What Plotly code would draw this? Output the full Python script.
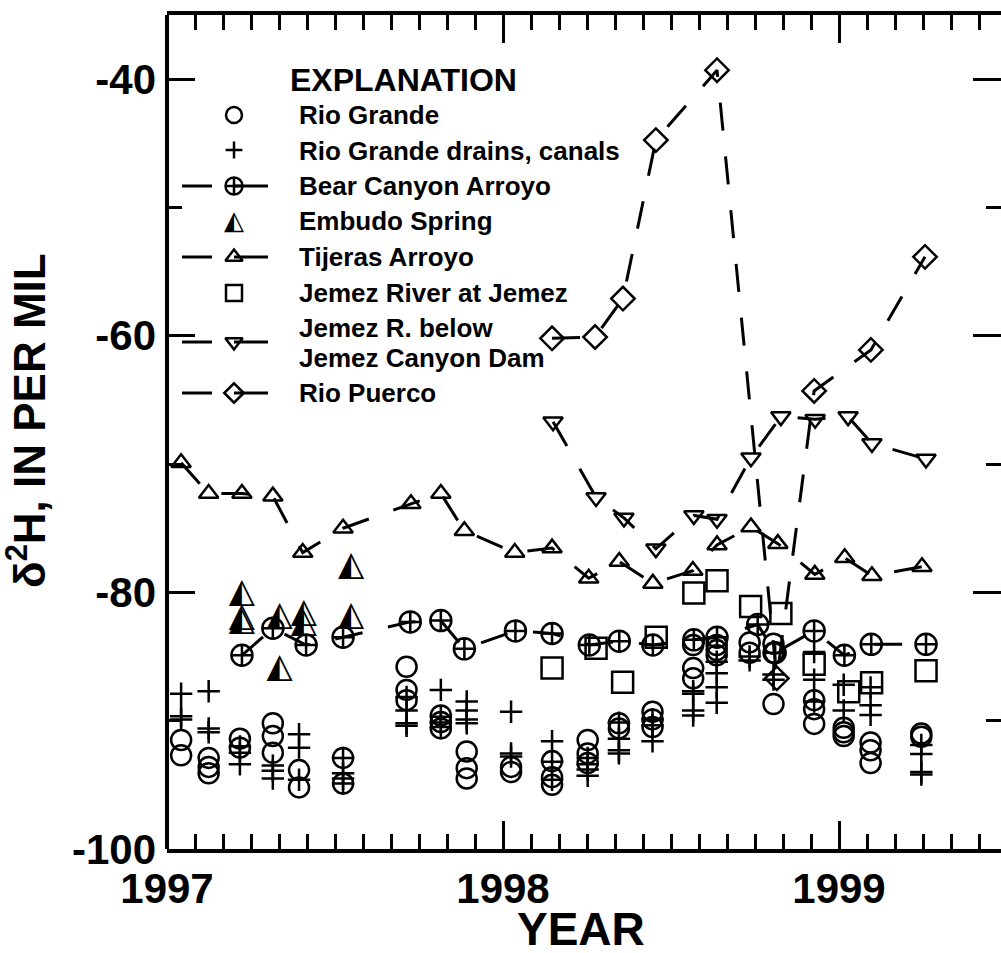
import plotly.graph_objects as go

# ---------------- data (decimal year, delta-2H in per mil) ----------------
# Field-trip sample dates shared by the Rio Grande and drain/canal sites
sample_dates = [1997.042, 1997.124, 1997.217, 1997.315, 1997.393, 1997.524,
                1997.713, 1997.815, 1997.892, 1998.024, 1998.146, 1998.252,
                1998.345, 1998.445, 1998.566, 1998.636, 1998.734, 1998.805,
                1998.926, 1999.014, 1999.094, 1999.245]

rio_grande = [
    [-91.5, -92.7], [-92.9, -93.6, -94.1], [-91.4, -92.1], [-90.2, -91.2, -92.5],
    [-93.85, -95.2], [-92.9, -94.9], [-85.8, -87.6, -88.4], [-89.6, -90.1, -90.6],
    [-92.4, -93.7, -94.5], [-93.6, -94.0], [-93.15, -94.4, -95.0],
    [-91.5, -92.55, -93.3], [-90.2, -90.6], [-89.3, -89.9, -90.5],
    [-84.1, -85.9, -86.7], [-84.1, -84.5, -84.9], [-83.9, -84.7],
    [-84.0, -84.7, -88.7], [-88.4, -89.1, -90.25], [-90.55, -90.9, -91.2],
    [-91.7, -92.3, -93.3], [-91.0, -91.25],
]

drains_canals = [
    [-87.9, -89.65, -89.9], [-87.7, -90.6, -90.9], [-92.0, -92.5, -93.4],
    [-93.5, -93.9, -94.5], [-91.05, -92.1, -94.6], [-92.9, -94.1, -94.5, -94.9],
    [-88.15, -89.2, -90.2, -90.4], [-87.6, -89.7, -90.15, -90.5],
    [-88.5, -89.2, -89.9, -90.2], [-89.3, -92.55, -92.8], [-91.6, -93.2, -94.6],
    [-92.9, -93.4, -93.8, -94.3], [-90.15, -91.4, -92.3, -92.55],
    [-89.9, -90.35, -91.6], [-87.7, -87.9, -89.2, -89.6],
    [-85.4, -86.3, -87.4, -88.6], [-85.0, -85.3], [-86.4, -86.8],
    [-84.65, -86.8, -88.5], [-87.2, -89.2], [-87.4, -88.8, -89.55],
    [-91.9, -92.6, -94.0, -94.2],
]

bear_dates = [1997.223, 1997.315, 1997.414, 1997.524, 1997.724, 1997.815, 1997.885,
              1998.037, 1998.146, 1998.257, 1998.346, 1998.446, 1998.568, 1998.637,
              1998.758, 1998.810, 1998.926, 1999.016, 1999.096, 1999.259]
bear_values = [-84.9, -82.8, -84.1, -83.5, -82.3, -82.2, -84.4, -83.0, -83.2, -84.1,
               -83.8, -84.1, -83.7, -83.5, -82.5, -84.7, -83.0, -84.9, -84.05, -84.05]

embudo_dates = [1997.223, 1997.223, 1997.223, 1997.335, 1997.335, 1997.407,
                1997.407, 1997.548, 1997.548]
embudo_values = [-80.1, -81.95, -82.3, -81.9, -85.9, -81.65, -82.4, -78.0, -81.9]

tijeras_dates = [1997.042, 1997.124, 1997.223, 1997.315, 1997.404, 1997.524,
                 1997.726, 1997.815, 1997.885, 1998.035, 1998.146, 1998.255,
                 1998.346, 1998.446, 1998.565, 1998.637, 1998.738, 1998.818,
                 1998.928, 1999.017, 1999.098, 1999.247]
tijeras_values = [-69.9, -72.3, -72.3, -72.5, -76.9, -75.0, -73.1, -72.3, -75.2,
                  -76.9, -76.55, -78.9, -77.6, -79.3, -78.3, -76.3, -74.9, -76.2,
                  -78.6, -77.3, -78.7, -78.0]

jemez_dates = [1998.146, 1998.277, 1998.356, 1998.456, 1998.568, 1998.637,
               1998.737, 1998.827, 1998.926, 1999.029, 1999.097, 1999.259]
jemez_values = [-85.9, -84.35, -87.0, -83.5, -80.05, -79.1, -81.1, -81.65,
                -85.6, -87.75, -87.05, -86.1]

dam_dates = [1998.149, 1998.277, 1998.360, 1998.455, 1998.568, 1998.637,
             1998.738, 1998.827, 1998.929, 1999.027, 1999.098, 1999.259]
dam_values = [-66.7, -72.6, -74.2, -76.6, -74.0, -74.3, -69.5, -66.3, -66.5,
              -66.3, -68.4, -69.6]

puerco_dates = [1998.146, 1998.274, 1998.357, 1998.455, 1998.637, 1998.815,
                1998.926, 1999.095, 1999.256]
puerco_values = [-60.2, -60.1, -57.1, -44.75, -39.3, -86.7, -64.3, -61.1, -53.85]

year_ticks = [1997, 1998, 1999]
value_ticks = [-100, -80, -60, -40]

# ---------------- styling ----------------
FONT = "Liberation Sans, Arial, Helvetica, sans-serif"
GLYPH_FONT = "DejaVu Sans"
HALF_TRIANGLE = "\u25ED"          # up-pointing triangle, right half black
DASH = "28px,26px"
LINE_W = 3
MARK_W = 2.5

FIG_W, FIG_H = 1001, 953
L, R, T, B = 167, 0, 15, 104       # margins in px
PX_PER_YEAR = 336
X_RANGE = [1997, 1997 + (FIG_W - L - R) / PX_PER_YEAR]   # frame runs on past the page edge
Y_RANGE = [-100, -35]


def flatten(dates, groups):
    xs, ys = [], []
    for d, grp in zip(dates, groups):
        for v in grp:
            xs.append(d)
            ys.append(v)
    return xs, ys


fig = go.Figure()


def add_series(x, y, symbol, size, dashed, name):
    fig.add_trace(go.Scatter(
        x=x, y=y, name=name, showlegend=False,
        mode="lines+markers" if dashed else "markers",
        line=dict(color="black", width=LINE_W, dash=DASH),
        marker=dict(symbol=symbol, size=size, color="black",
                    line=dict(color="black", width=MARK_W)),
        cliponaxis=False,
    ))


rg_x, rg_y = flatten(sample_dates, rio_grande)
dr_x, dr_y = flatten(sample_dates, drains_canals)

add_series(rg_x, rg_y, "circle-open", 20, False, "Rio Grande")
add_series(dr_x, dr_y, "cross-thin-open", 16, False, "Rio Grande drains, canals")
add_series(bear_dates, bear_values, "circle-cross-open", 21, True, "Bear Canyon Arroyo")
add_series(tijeras_dates, tijeras_values, "triangle-up-open", 17, True, "Tijeras Arroyo")
add_series(jemez_dates, jemez_values, "square-open", 21, False, "Jemez River at Jemez")
add_series(dam_dates, dam_values, "triangle-down-open", 17, True,
           "Jemez R. below Jemez Canyon Dam")
add_series(puerco_dates, puerco_values, "diamond-open", 18, True, "Rio Puerco")

# Embudo Spring: half-filled triangle glyph
fig.add_trace(go.Scatter(
    x=embudo_dates, y=embudo_values, mode="text", showlegend=False,
    text=[HALF_TRIANGLE] * len(embudo_dates), textposition="middle center",
    textfont=dict(family=GLYPH_FONT, size=34, color="black"), name="Embudo Spring",
    cliponaxis=False,
))

# ---------------- explanation (key) drawn on a pixel-based overlay ----------------
KEY_SYM_X = 234
KEY_LINE = (182, 212, 234, 268)
KEY_TEXT_X = 297
key_rows = [
    # label lines, symbol, size, dashed, symbol y, first text line y
    (["Rio Grande"], "circle-open", 16, False, 115, 115),
    (["Rio Grande drains, canals"], "cross-thin-open", 12, False, 150, 151),
    (["Bear Canyon Arroyo"], "circle-cross-open", 17, True, 186, 186),
    (["Embudo Spring"], None, 26, False, 222, 221),
    (["Tijeras Arroyo"], "triangle-up-open", 15, True, 257, 257),
    (["Jemez River at Jemez"], "square-open", 16, False, 293, 293),
    (["Jemez R. below", "Jemez Canyon Dam"], "triangle-down-open", 15, True, 342, 328),
    (["Rio Puerco"], "diamond-open", 15, True, 393, 393),
]
TEXT_LINE_GAP = 30

annotations = [dict(
    text="<b>EXPLANATION</b>", x=288, y=80, xref="x2", yref="y2",
    xanchor="left", yanchor="middle", showarrow=False,
    font=dict(family=FONT, size=32, color="black"),
)]

for labels, symbol, size, dashed, sy, ty in key_rows:
    if dashed:
        x0, x1, x2, x3 = KEY_LINE
        fig.add_trace(go.Scatter(
            x=[x0, x1, None, x2, x3], y=[sy, sy, None, sy, sy], mode="lines",
            line=dict(color="black", width=LINE_W), xaxis="x2", yaxis="y2",
            showlegend=False, hoverinfo="skip", cliponaxis=False))
    if symbol is None:
        fig.add_trace(go.Scatter(
            x=[KEY_SYM_X], y=[sy], mode="text", text=[HALF_TRIANGLE],
            textposition="middle center", xaxis="x2", yaxis="y2",
            textfont=dict(family=GLYPH_FONT, size=size, color="black"),
            showlegend=False, hoverinfo="skip", cliponaxis=False))
    else:
        fig.add_trace(go.Scatter(
            x=[KEY_SYM_X], y=[sy], mode="markers", xaxis="x2", yaxis="y2",
            marker=dict(symbol=symbol, size=size, color="black",
                        line=dict(color="black", width=MARK_W)),
            showlegend=False, hoverinfo="skip", cliponaxis=False))
    for i, lab in enumerate(labels):
        annotations.append(dict(
            text="<b>%s</b>" % lab, x=KEY_TEXT_X, y=ty + i * TEXT_LINE_GAP,
            xref="x2", yref="y2", xanchor="left", yanchor="middle",
            showarrow=False, font=dict(family=FONT, size=26, color="black")))

# axis titles
plot_w = FIG_W - L - R
plot_h = FIG_H - T - B
annotations.append(dict(
    text="<b>YEAR</b>", x=(581 - L) / plot_w, y=-(929 - (FIG_H - B)) / plot_h,
    xref="paper", yref="paper", xanchor="center", yanchor="middle",
    showarrow=False, font=dict(family=FONT, size=46, color="black")))
annotations.append(dict(
    text="<b>\u03b4<sup>2</sup>H, IN PER MIL</b>", x=(26 - L) / plot_w,
    y=((FIG_H - B) - 421) / plot_h, textangle=-90,
    xref="paper", yref="paper", xanchor="center", yanchor="middle",
    showarrow=False, font=dict(family=FONT, size=44, color="black")))

axis_common = dict(
    mirror="ticks", linecolor="black", linewidth=4,
    ticks="inside", ticklen=28, tickwidth=3, tickcolor="black",
    showgrid=False, zeroline=False,
    tickfont=dict(family=FONT, size=42, color="black", weight="bold"),
)

# left frame edge (the right edge lies beyond the page)
shapes = [dict(type="line", xref="paper", yref="paper", x0=0, x1=0, y0=0, y1=1,
               line=dict(color="black", width=4), layer="above")]

fig.update_layout(
    width=FIG_W, height=FIG_H,
    margin=dict(l=L, r=R, t=T, b=B, pad=0),
    paper_bgcolor="white", plot_bgcolor="white",
    showlegend=False,
    xaxis=dict(range=X_RANGE, tickmode="array", tickvals=year_ticks,
               ticktext=[str(v) for v in year_ticks], showline=True,
               minor=dict(dtick=1 / 12, tick0=1997, ticks="inside", ticklen=15,
                          tickwidth=3, tickcolor="black", showgrid=False),
               **axis_common),
    yaxis=dict(range=Y_RANGE, tickmode="array", tickvals=value_ticks,
               ticktext=[str(v) for v in value_ticks], showline=False,
               ticklabelstandoff=10,
               minor=dict(dtick=10, tick0=-100, ticks="inside", ticklen=15,
                          tickwidth=3, tickcolor="black", showgrid=False),
               **axis_common),
    xaxis2=dict(overlaying="x", range=[L, FIG_W - R], visible=False),
    yaxis2=dict(overlaying="y", range=[FIG_H - B, T], visible=False),
    annotations=annotations,
    shapes=shapes,
)

fig.write_html(
    "out.html",
    post_script="document.body.style.margin='0';document.body.style.overflow='hidden';",
)
